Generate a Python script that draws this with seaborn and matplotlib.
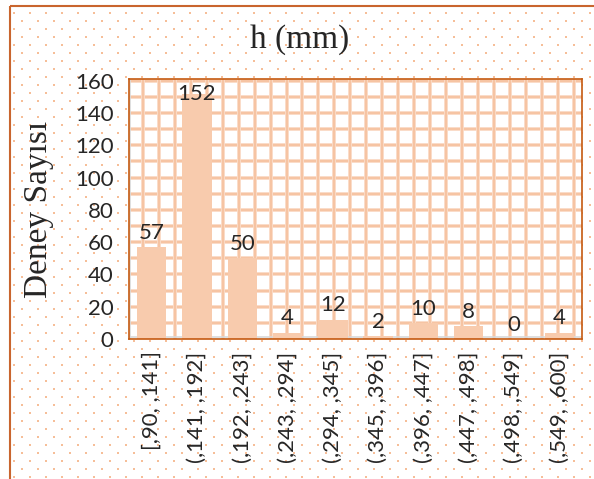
import numpy as np
import pandas as pd
import seaborn as sns
import matplotlib.pyplot as plt
from matplotlib.patches import Rectangle

# data
bins = ["[,90, ,141]", "(,141, ,192]", "(,192, ,243]", "(,243, ,294]", "(,294, ,345]",
        "(,345, ,396]", "(,396, ,447]", "(,447, ,498]", "(,498, ,549]", "(,549, ,600]"]
counts = [57, 152, 50, 4, 12, 2, 10, 8, 0, 4]
y_ticks = [0, 20, 40, 60, 80, 100, 120, 140, 160]

df = pd.DataFrame({"bin": bins, "count": counts})

sns.set_style("white")
plt.rcParams['font.family'] = ['Lato', 'DejaVu Sans']

W, H = 594, 479
fig = plt.figure(figsize=(W / 100, H / 100), dpi=100)
fig.patch.set_facecolor("white")

# dotted background like the excel pattern fill
bg = fig.add_axes([0, 0, 1, 1], zorder=-2)
bg.set_xlim(0, W)
bg.set_ylim(H, 0)
bg.axis("off")
xs, ys = [], []
for j, yy in enumerate(np.arange(13, H, 8)):
    off = 0 if j % 2 == 0 else 8
    for xx in np.arange(14 + off, W, 16):
        xs.append(xx)
        ys.append(yy)
bg.scatter(xs, ys, s=4.5, marker="s", color="#F6BE98", linewidths=0)
bg.add_patch(Rectangle((9.5, 5.5), W, H, fill=False, edgecolor="#C9652E", lw=1.5))

ax = fig.add_axes([129 / W, 1 - 339 / H, 453 / W, 260 / H])
ax.set_facecolor("white")

# grid pattern of the plot area
for yy in np.arange(10, 161, 10):
    ax.axhline(yy, color="#FADBC6", lw=2.8, zorder=0)
    ax.axhline(yy, color="#F6C09C", lw=1.2, zorder=0)
for xx in np.arange(-0.5 + 0.3, 9.5, 0.353):
    ax.axvline(xx, color="#FADBC6", lw=2.8, zorder=0)
    ax.axvline(xx, color="#F6C09C", lw=1.2, zorder=0)

sns.barplot(data=df, x="bin", y="count", color="#F8CBAD", saturation=1,
            width=0.65, ax=ax, zorder=2, edgecolor="none", linewidth=0)

for i, v in enumerate(counts):
    if v + 12 > 160:
        ax.annotate(str(v), (i, v), ha="center", va="center", fontsize=16, zorder=3)
    else:
        ax.annotate(str(v), (i, v), xytext=(0, 3), textcoords="offset points",
                    ha="center", va="bottom", fontsize=16, zorder=3)

ax.set_xlim(-0.5, 9.5)
ax.set_ylim(0, 161)
ax.set_yticks(y_ticks)
ax.tick_params(axis="y", length=0, pad=11, labelsize=16)
ax.tick_params(axis="x", length=0, pad=9, labelsize=16)
plt.setp(ax.get_xticklabels(), rotation=90, ha="center", va="top")

ax.axvline(-0.47, color="#D9D9D9", lw=1.2, zorder=1)
ax.axhline(1.5, color="#D9D9D9", lw=1.2, zorder=1)

for s in ax.spines.values():
    s.set_visible(True)
    s.set_color("#C55A11")
    s.set_linewidth(1.2)

ax.set_xlabel("")
ax.set_ylabel("Deney Sayısı", fontsize=24, family="Liberation Serif")
ax.yaxis.set_label_coords(-0.165, 0.5)

fig.text(300 / W, 1 - 40 / H, "h (mm)", ha="center", va="center",
         fontsize=24, family="Liberation Serif")

plt.savefig("out.png", dpi=100)
